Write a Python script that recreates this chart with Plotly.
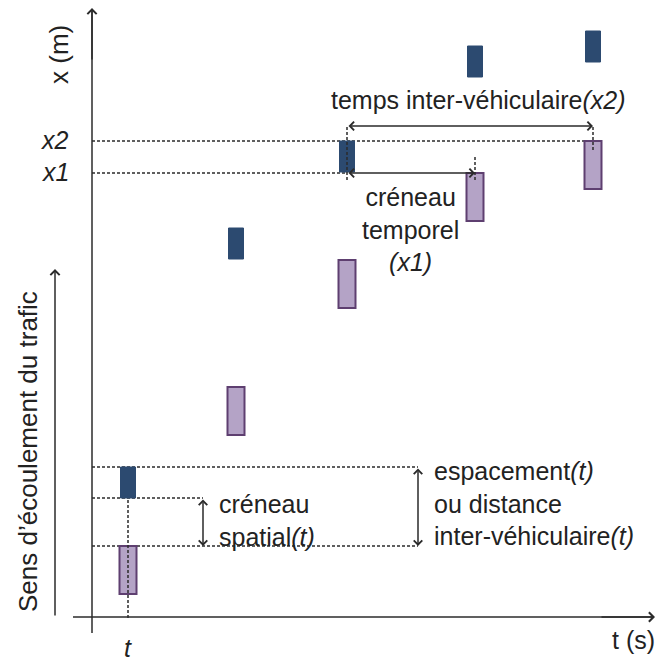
import plotly.graph_objects as go

# ---- data (diagram units: x = time, y = position) ----
times = [128, 236, 347, 475, 593]            # successive observation instants
leader_front = [194, 433, 520, 615, 630]     # front position of leading vehicle (blue)
follower_front = [115, 274, 401, 488, 520]   # front position of following vehicle (purple)
leader_len = 31
follower_len = 48
x1_level = 488
x2_level = 520

FONT = "Liberation Sans, Arial, sans-serif"
FS = 25
DARK = "#2b2b2b"
BLUE = "#2C4A70"
PURPLE_FILL = "#B4A3C6"
PURPLE_LINE = "#5E3F70"

W, H = 656, 661

fig = go.Figure()
fig.add_trace(go.Scatter(x=[0, W], y=[0, H], mode="markers", marker=dict(opacity=0), hoverinfo="skip", showlegend=False))

shapes = []
ann = []

def dline(x0, y0, x1, y1):
    shapes.append(dict(type="line", x0=x0, y0=y0, x1=x1, y1=y1, xref="x", yref="y",
                       line=dict(color=DARK, width=1.5, dash="3px,2px")))

def arrow(x0, y0, x1, y1, both=False, head=4, width=1.5, size=1.0):
    ann.append(dict(x=x1, y=y1, ax=x0, ay=y0, xref="x", yref="y", axref="x", ayref="y",
                    showarrow=True, arrowhead=head, startarrowhead=head, arrowsize=size,
                    startarrowsize=size, arrowwidth=width, arrowcolor=DARK,
                    arrowside="end+start" if both else "end", text=""))

def text(x, y, s, xanchor="center", angle=0, size=FS):
    ann.append(dict(x=x, y=y, xref="x", yref="y", text=s, showarrow=False, xanchor=xanchor,
                    yanchor="middle", textangle=angle, align="left" if xanchor == "left" else "center",
                    font=dict(family=FONT, size=size, color="#222222")))

# dashed guide lines (drawn first, under vehicles)
t1, t3, t4, t5 = times[0], times[2], times[3], times[4]
dline(92, x2_level, t5 + 8, x2_level)
dline(92, x1_level, t3, x1_level)
dline(92, leader_front[0], 418, leader_front[0])
dline(92, leader_front[0] - leader_len, 203, leader_front[0] - leader_len)
dline(92, follower_front[0], 418, follower_front[0])

# vehicles
for t, lf, ff in zip(times, leader_front, follower_front):
    shapes.append(dict(type="rect", xref="x", yref="y", x0=t - 7.5, x1=t + 7.5, y0=lf - leader_len, y1=lf,
                       fillcolor=BLUE, line=dict(color=BLUE, width=1), layer="above"))
    shapes.append(dict(type="rect", xref="x", yref="y", x0=t - 8.5, x1=t + 8.5, y0=ff - follower_len, y1=ff,
                       fillcolor=PURPLE_FILL, line=dict(color=PURPLE_LINE, width=2), layer="above"))

# vertical dashed lines over vehicles
dline(t3, x1_level - 7, t3, x2_level + 15)
dline(t5, x2_level - 9, t5, x2_level + 15)
dline(t4, x1_level - 7, t4, x1_level + 16)
dline(t1, 43, t1, leader_front[0] - leader_len)

# axes
shapes.append(dict(type="line", xref="x", yref="y", x0=92, y0=28, x1=92, y1=650, line=dict(color=DARK, width=1.5)))
shapes.append(dict(type="line", xref="x", yref="y", x0=73, y0=44, x1=652, y1=44, line=dict(color=DARK, width=1.5)))
arrow(92, 600, 92, 653, head=4, size=1.2)
arrow(600, 44, 655, 44, head=4, size=1.2)
arrow(55, 44, 55, 392, head=4, size=1.2)

# measurement arrows
arrow(t3, 535, t5, 535, both=True, head=4, size=1.1)
arrow(t3, x1_level, t4, x1_level, both=True, head=4, size=1.1)
arrow(203, leader_front[0] - leader_len, 203, follower_front[0], both=True, head=4, size=1.1)
arrow(418, leader_front[0], 418, follower_front[0], both=True, head=4, size=1.1)

# texts
text(59, 606, "x (m)", angle=-90, size=26)
text(71, x2_level + 1, "<i>x2</i>", xanchor="right")
text(71, x1_level + 1, "<i>x1</i>", xanchor="right")
text(478, 561, "temps inter-véhiculaire<i>(x2)</i>")
text(410, 432, "créneau<br>temporel<br><i>(x1)</i>")
text(217, 141, "créneau<br>spatial<i>(t)</i>", xanchor="left")
text(432, 158, "espacement<i>(t)</i><br>ou distance<br>inter-véhiculaire<i>(t)</i>", xanchor="left")
text(28, 209, "Sens d’écoulement du trafic", angle=-90, size=26)
text(633, 21, "t (s)")
text(t1, 13, "<i>t</i>")

fig.update_layout(
    width=W, height=H, margin=dict(l=0, r=0, t=0, b=0),
    paper_bgcolor="white", plot_bgcolor="white",
    xaxis=dict(range=[0, W], visible=False, fixedrange=True),
    yaxis=dict(range=[0, H], visible=False, fixedrange=True),
    shapes=shapes, annotations=ann, showlegend=False,
)
fig.write_html("out.html", config={"displayModeBar": False},
               post_script="document.body.style.margin='0';document.body.style.overflow='hidden';")
